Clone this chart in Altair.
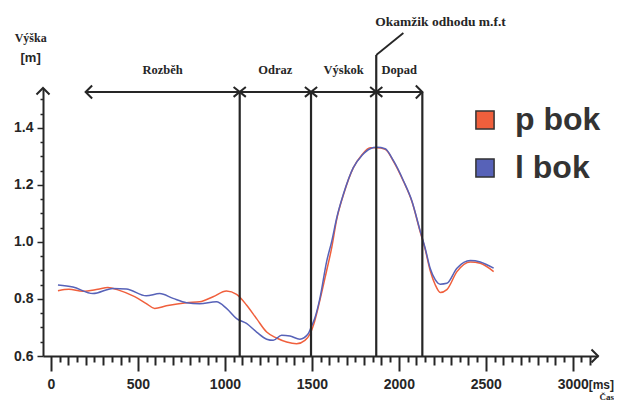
import altair as alt
import pandas as pd

# ---------------- data ----------------
red_t = [40, 103, 183, 270, 327, 385, 481, 548, 596, 663, 779, 855, 932, 1009, 1067, 1124,
         1182, 1240, 1297, 1355, 1412, 1460, 1490, 1510, 1540, 1585, 1614, 1643, 1681, 1738,
         1787, 1835, 1873, 1921, 1969, 2027, 2075, 2123, 2151, 2180, 2209, 2238, 2276, 2334,
         2411, 2468, 2545]
red_v = [0.829, 0.834, 0.827, 0.834, 0.840, 0.832, 0.808, 0.784, 0.767, 0.776, 0.787, 0.790,
         0.808, 0.828, 0.816, 0.779, 0.731, 0.684, 0.663, 0.649, 0.643, 0.655, 0.678, 0.710,
         0.780, 0.900, 0.980, 1.080, 1.165, 1.260, 1.305, 1.330, 1.330, 1.325, 1.283, 1.212,
         1.142, 1.035, 0.975, 0.900, 0.850, 0.823, 0.833, 0.896, 0.930, 0.925, 0.896]

blue_t = [40, 126, 241, 356, 433, 548, 625, 702, 779, 855, 951, 1009, 1067, 1124, 1182, 1240,
          1278, 1326, 1374, 1431, 1479, 1495, 1518, 1547, 1585, 1614, 1643, 1681, 1738, 1787,
          1835, 1873, 1921, 1969, 2027, 2075, 2123, 2151, 2180, 2209, 2238, 2276, 2334, 2411,
          2468, 2545]
blue_v = [0.849, 0.842, 0.819, 0.837, 0.835, 0.811, 0.819, 0.802, 0.787, 0.783, 0.790, 0.767,
          0.731, 0.714, 0.684, 0.659, 0.655, 0.673, 0.670, 0.659, 0.678, 0.700, 0.735, 0.805,
          0.932, 1.002, 1.085, 1.167, 1.261, 1.303, 1.327, 1.332, 1.327, 1.285, 1.214, 1.144,
          1.038, 0.979, 0.908, 0.868, 0.852, 0.855, 0.908, 0.935, 0.930, 0.908]

series_names = ["p bok", "l bok"]
series_colors = ["#f05f3c", "#5762b8"]

phase_names = ["Rozběh", "Odraz", "Výskok", "Dopad"]
arrow_start = 199
phase_bounds = [1085, 1495, 1870, 2135]
arrow_level = 1.526
bound_tops = [1.526, 1.526, 1.656, 1.526]
phase_label_level = 1.603

release_t = [1870, 2026]
release_v = [1.656, 1.733]
release_text = "Okamžik odhodu m.f.t"
release_text_pos = (2240, 1.772)

x_domain = [-46, 3145]
y_domain = [0.6, 1.540]
x_tick_values = list(range(0, 3101, 50))
y_tick_values = [round(0.6 + 0.05 * i, 2) for i in range(19)]

# ---------------- tables ----------------
lines_df = pd.concat([
    pd.DataFrame({"t": red_t, "v": red_v, "s": "p bok"}),
    pd.DataFrame({"t": blue_t, "v": blue_v, "s": "l bok"}),
])

starts = [arrow_start] + phase_bounds[:-1]
phase_df = pd.DataFrame({
    "t": [(a + b) / 2 for a, b in zip(starts, phase_bounds)],
    "v": [phase_label_level] * 4,
    "label": phase_names,
})
bounds_df = pd.DataFrame({"t": phase_bounds, "v": [y_domain[0]] * 4, "v2": bound_tops})
cross_df = pd.DataFrame({"t": phase_bounds[:-1], "v": [arrow_level] * 3})
hline_df = pd.DataFrame({"t": [arrow_start], "t2": [phase_bounds[-1]], "v": [arrow_level]})
diag_df = pd.DataFrame({"t": [release_t[0]], "t2": [release_t[1]],
                        "v": [release_v[0]], "v2": [release_v[1]]})

chev_right_df = pd.DataFrame({"t": [phase_bounds[-1], x_domain[1]], "v": [arrow_level, y_domain[0]]})
chev_left_df = pd.DataFrame({"t": [arrow_start], "v": [arrow_level]})
chev_up_df = pd.DataFrame({"t": [x_domain[0]], "v": [y_domain[1]]})

ink = "#262626"

xs = alt.Scale(domain=x_domain, nice=False, zero=False)
ys = alt.Scale(domain=y_domain, nice=False, zero=False)

y_major = "abs(round(datum.value*10) - datum.value*10) < 0.01 && round(datum.value*10) % 2 == 0"

x_axis = alt.Axis(
    title=None, values=x_tick_values, format="d",
    labelExpr="datum.value % 500 == 0 ? datum.label : ''",
    tickSize={"condition": [{"test": "datum.value % 500 == 0", "value": 15},
                            {"test": "datum.value % 100 == 0", "value": 9}],
              "value": 6},
    labelPadding=6, labelOverlap=False, labelFlush=False,
    labelFont="Liberation Sans", labelFontWeight="bold", labelFontSize=14, labelColor=ink,
    domainColor=ink, domainWidth=2, tickColor=ink, tickWidth=2, grid=False,
)
y_axis = alt.Axis(
    title=None, values=y_tick_values, format=".1f",
    labelExpr=f"{y_major} ? datum.label : ''",
    tickSize={"condition": {"test": y_major, "value": 6}, "value": 3},
    labelPadding=4, labelOverlap=False, labelFlush=False,
    labelFont="Liberation Sans", labelFontWeight="bold", labelFontSize=14, labelColor=ink,
    domainColor=ink, domainWidth=2, tickColor=ink, tickWidth=1.5, grid=False,
)

def X(f="t"):
    return alt.X(f"{f}:Q", scale=xs, axis=x_axis)

def Y(f="v"):
    return alt.Y(f"{f}:Q", scale=ys, axis=y_axis)

# line colours (same mapping; listed in reverse so this scale is kept apart from the legend's)
line_scale = alt.Scale(domain=series_names[::-1], range=series_colors[::-1])
legend_scale = alt.Scale(domain=series_names, range=series_colors)

lines = alt.Chart(lines_df).mark_line(strokeWidth=1.5, interpolate="monotone").encode(
    x=X(), y=Y(),
    color=alt.Color("s:N", scale=line_scale, legend=None),
    detail="s:N",
)

# legend only: no marks drawn (empty after filter); entries come from the scale domain
legend_layer = alt.Chart(lines_df).transform_filter("datum.t < -1e9").mark_point(
    shape="square", filled=True, opacity=1).encode(
    x=X(), y=Y(),
    fill=alt.Fill("s:N", scale=legend_scale, legend=alt.Legend(
        title=None, orient="none", legendX=426, legendY=16,
        symbolType="square", symbolSize=330, symbolStrokeColor="#333333",
        symbolStrokeWidth=1.5, symbolOpacity=1,
        labelFont="Liberation Sans", labelFontWeight="bold", labelFontSize=32,
        labelColor="#333333", labelOffset=14, rowPadding=16,
    )),
)

bounds = alt.Chart(bounds_df).mark_rule(color=ink, strokeWidth=2.2).encode(
    x=X(), y=Y(), y2="v2:Q")
diag = alt.Chart(diag_df).mark_rule(color=ink, strokeWidth=1.8).encode(
    x=X(), x2="t2:Q", y=Y(), y2="v2:Q")
hline = alt.Chart(hline_df).mark_rule(color=ink, strokeWidth=2).encode(
    x=X(), x2="t2:Q", y=Y())

def chevron(df, path):
    return alt.Chart(df).mark_point(shape=path, size=170, filled=False, color=ink,
                                    strokeWidth=2, opacity=1).encode(x=X(), y=Y())

chev_r = chevron(chev_right_df, "M-1,-1L0,0L-1,1")
chev_l = chevron(chev_left_df, "M1,-1L0,0L1,1")
chev_u = chevron(chev_up_df, "M-1,1L0,0L1,1")
crosses = alt.Chart(cross_df).mark_point(shape="M-1,-0.8L1,0.8M-1,0.8L1,-0.8", size=150,
                                         filled=False, color=ink, strokeWidth=2,
                                         opacity=1).encode(x=X(), y=Y())

phase_text = alt.Chart(phase_df).mark_text(font="Liberation Serif", fontWeight="bold",
                                           fontSize=12.5, color=ink).encode(
    x=X(), y=Y(), text="label:N")

ann_df = pd.DataFrame({
    "t": [release_text_pos[0], -117, -117, 3237, 3237],
    "v": [release_text_pos[1], 1.716, 1.646, 0.498, 0.455],
    "label": [release_text, "Výška", "[m]", "[ms]", "Čas"],
    "size": [13.5, 12, 13, 12, 9],
    "font": ["Liberation Serif", "Liberation Serif", "Liberation Sans", "Liberation Sans",
             "Liberation Serif"],
    "align": ["center", "center", "center", "right", "right"],
})
ann_text = alt.layer(*[
    alt.Chart(ann_df.iloc[[i]]).mark_text(fontWeight="bold", color=ink,
                                         font=ann_df["font"][i],
                                         align=ann_df["align"][i],
                                         fontSize=float(ann_df["size"][i])).encode(
        x=X(), y=Y(), text="label:N")
    for i in range(len(ann_df))
])

chart = alt.layer(
    lines, legend_layer, bounds, diag, hline, chev_r, chev_l, chev_u, crosses,
    phase_text, ann_text,
).properties(
    width=555, height=268,
    autosize=alt.AutoSizeParams(type="none"),
    padding={"left": 35, "top": 80, "right": 16, "bottom": 45},
    background="white",
).configure_view(stroke=None)

chart.save("out.html", embed_options={"renderer": "svg", "actions": False})
